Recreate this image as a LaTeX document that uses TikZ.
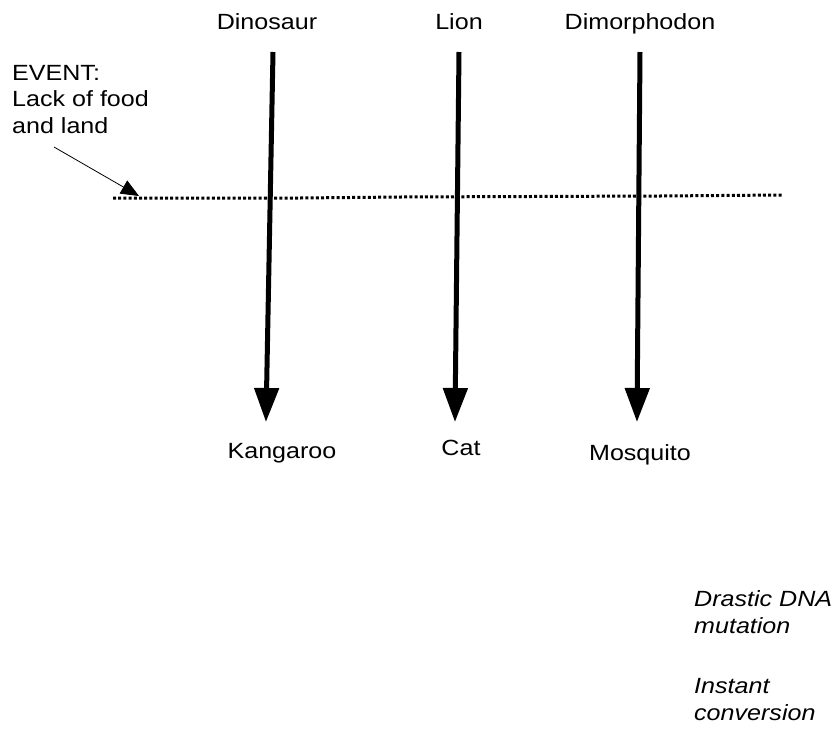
\documentclass[tikz,border=0pt]{standalone}
\usepackage{fontspec}
\setmainfont[FakeStretch=1.14]{Liberation Sans}
\usetikzlibrary{arrows.meta}
\begin{document}
\begin{tikzpicture}[x=1pt,y=-1pt,
  lbl/.style={font=\fontsize{22}{26}\selectfont, inner sep=0pt, anchor=base},
  big/.style={line width=5pt, -{Triangle[width=24pt,length=34pt]}, shorten >=-2pt},
  note/.style={font=\fontsize{22}{27}\selectfont\itshape, inner sep=0pt, anchor=base west},
  ev/.style={font=\fontsize{22}{26.5}\selectfont, inner sep=0pt, anchor=base west}]
\useasboundingbox (0,0) rectangle (839,729);
\node[lbl] (dino) at (267,29) {Dinosaur};
\node[lbl] (lion) at (459,29) {Lion};
\node[lbl] (dimo) at (640,29) {Dimorphodon};
\node[lbl] (kang) at (282,458) {Kangaroo};
\node[lbl] (cat) at (461,455) {Cat};
\node[lbl] (mosq) at (640,460) {Mosquito};
\coordinate (d1) at (273,52); \coordinate (d2) at (266,420);
\coordinate (l1) at (459,52); \coordinate (l2) at (455,420);
\coordinate (m1) at (640,52); \coordinate (m2) at (637,420);
\draw[big] (d1) -- (d2);
\draw[big] (l1) -- (l2);
\draw[big] (m1) -- (m2);
\node[ev] (ev1) at (12,80) {EVENT:};
\node[ev] (ev2) at (12,106.5) {Lack of food};
\node[ev] (ev3) at (12,133) {and land};
\coordinate (evs) at (54,147);
\coordinate (evt) at (139,196);
\draw[line width=0.8pt, -{Triangle[width=15pt,length=18pt]}] (evs) -- (evt);
\coordinate (a) at (113,198);
\coordinate (b) at (782,195);
\draw[line width=3pt, dash pattern=on 3pt off 2.2pt] (a) -- (300,198) -- (400,197) -- (660,196) -- (b);
\node[note] (dna1) at (694,606) {Drastic DNA};
\node[note] (dna2) at (694,633) {mutation};
\node[note] (in1) at (694,693) {Instant};
\node[note] (in2) at (694,720) {conversion};
\end{tikzpicture}
\end{document}
